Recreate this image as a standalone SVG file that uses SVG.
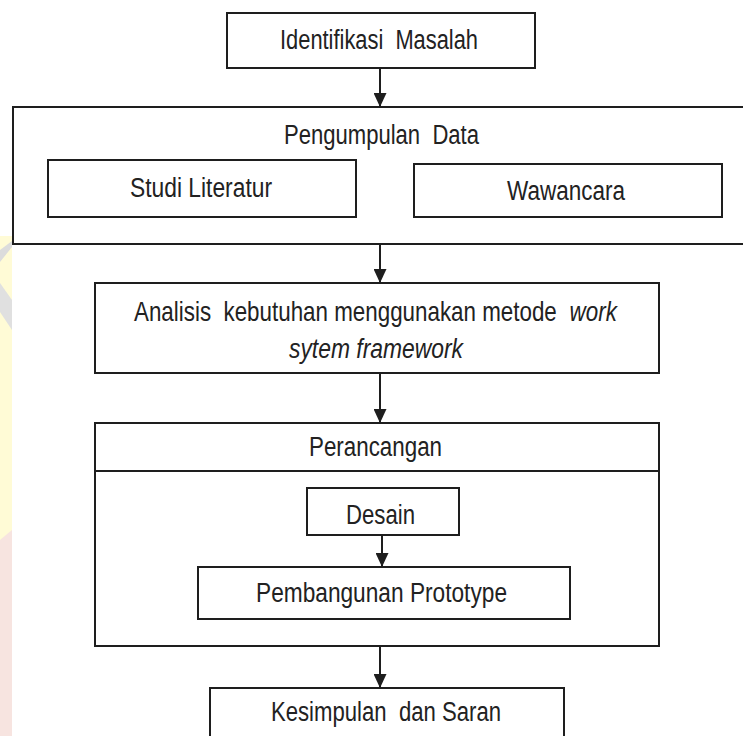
<svg xmlns="http://www.w3.org/2000/svg" width="743" height="736" viewBox="0 0 743 736">
  <style>
    .box { fill: #ffffff; stroke: #1e1e1e; stroke-width: 2; }
    .ln { fill: none; stroke: #1e1e1e; stroke-width: 2; }
    .conn { fill: none; stroke: #1e1e1e; stroke-width: 2; }
    .t { font-family: "Liberation Sans", Arial, sans-serif; font-size: 27px; fill: #222222; }
    .it { font-style: italic; }
  </style>
  <defs>
    <marker id="arrow" viewBox="0 0 14 13" refX="14" refY="6.5" markerWidth="14" markerHeight="13" markerUnits="userSpaceOnUse" orient="auto">
      <path d="M0,0 L14,6.5 L0,13 Z" fill="#1e1e1e"/>
    </marker>
  </defs>
  <rect x="0" y="0" width="743" height="736" fill="#ffffff"/>
  <g id="watermark">
    <rect x="0" y="236" width="12" height="500" fill="#fffbd6"/>
    <path d="M0,540 L12,530 L12,736 L0,736 Z" fill="#f7e4e0"/>
    <path d="M0,250 L12,241 L12,247 L0,262 Z" fill="#dcdcdc"/>
    <path d="M0,283 L12,300 L12,330 L0,312 Z" fill="#e0e0e0"/>
  </g>
  <g id="identifikasi">
    <rect class="box" x="227" y="13" width="308" height="55"/>
    <text class="t" x="280" y="49" textLength="198" lengthAdjust="spacingAndGlyphs" xml:space="preserve">Identifikasi  Masalah</text>
  </g>
  <g id="pengumpulan">
    <rect class="box" x="13" y="107" width="740" height="137"/>
    <text class="t" x="284" y="144" textLength="195" lengthAdjust="spacingAndGlyphs" xml:space="preserve">Pengumpulan  Data</text>
  </g>
  <g id="studi">
    <rect class="box" x="48" y="160" width="308" height="57"/>
    <text class="t" x="130" y="197" textLength="142" lengthAdjust="spacingAndGlyphs">Studi Literatur</text>
  </g>
  <g id="wawancara">
    <rect class="box" x="414" y="164" width="308" height="53"/>
    <text class="t" x="507" y="200" textLength="118" lengthAdjust="spacingAndGlyphs">Wawancara</text>
  </g>
  <g id="analisis">
    <rect class="box" x="95" y="283" width="564" height="90"/>
    <text class="t" transform="translate(134 321) scale(0.829 1)" x="0" y="0" xml:space="preserve">Analisis  kebutuhan menggunakan metode <tspan class="it" dx="8">work</tspan></text>
    <text class="t it" x="289" y="358" textLength="174" lengthAdjust="spacingAndGlyphs">sytem framework</text>
  </g>
  <g id="perancangan">
    <rect class="box" x="95" y="423" width="564" height="223"/>
    <line class="ln" x1="95" y1="471" x2="659" y2="471"/>
    <text class="t" x="309" y="456" textLength="133" lengthAdjust="spacingAndGlyphs">Perancangan</text>
  </g>
  <g id="desain">
    <rect class="box" x="307" y="488" width="152" height="47"/>
    <text class="t" x="346" y="524" textLength="69" lengthAdjust="spacingAndGlyphs">Desain</text>
  </g>
  <g id="pembangunan">
    <rect class="box" x="198" y="567" width="372" height="52"/>
    <text class="t" x="256" y="602" textLength="251" lengthAdjust="spacingAndGlyphs">Pembangunan Prototype</text>
  </g>
  <g id="kesimpulan">
    <rect class="box" x="210" y="688" width="354" height="60"/>
    <text class="t" x="271" y="721" textLength="230" lengthAdjust="spacingAndGlyphs" xml:space="preserve">Kesimpulan  dan Saran</text>
  </g>
  <g id="connectors">
    <line class="conn" x1="380" y1="68" x2="380" y2="107" marker-end="url(#arrow)"/>
    <line class="conn" x1="380" y1="244" x2="380" y2="283" marker-end="url(#arrow)"/>
    <line class="conn" x1="380" y1="373" x2="380" y2="423" marker-end="url(#arrow)"/>
    <line class="conn" x1="382" y1="535" x2="382" y2="567" marker-end="url(#arrow)"/>
    <line class="conn" x1="380" y1="646" x2="380" y2="688" marker-end="url(#arrow)"/>
  </g>
</svg>
